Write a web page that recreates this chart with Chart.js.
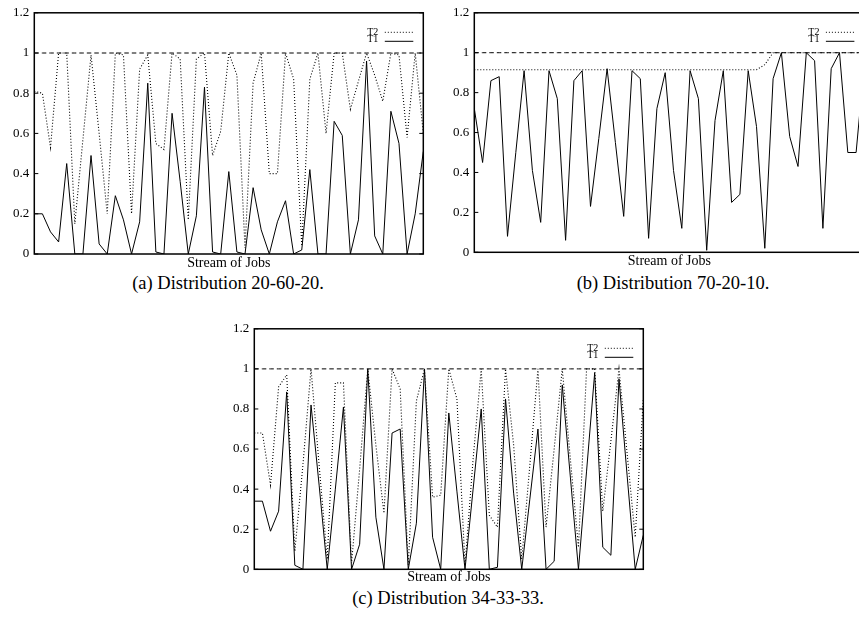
<!DOCTYPE html>
<html>
<head>
<meta charset="utf-8">
<script src="https://cdn.jsdelivr.net/npm/chart.js@4.4.1/dist/chart.umd.min.js"></script>
<style>
html, body { margin: 0; padding: 0; background: #fff; overflow: hidden; width: 859px; height: 620px; }
canvas { position: absolute; }
.caption { position: absolute; width: 320px; text-align: center; font-family: "Liberation Serif", serif; font-size: 18.5px; line-height: 1; color: #000; white-space: nowrap; }
</style>
</head>
<body>
<canvas id="chartA" style="left:0px;top:0px" width="430" height="272"></canvas>
<canvas id="chartB" style="left:440px;top:0px" width="430" height="270"></canvas>
<canvas id="chartC" style="left:220px;top:316px" width="430" height="270"></canvas>
<div class="caption" style="left:68px;top:274px">(a) Distribution 20-60-20.</div>
<div class="caption" style="left:513px;top:274px">(b) Distribution 70-20-10.</div>
<div class="caption" style="left:288px;top:589px">(c) Distribution 34-33-33.</div>
<script>
// y axis ticks shared by all three plots
var yTicks = [0, 0.2, 0.4, 0.6, 0.8, 1, 1.2];
var LIMIT = 1;

// (a) 20-60-20
var t1A = [0.20, 0.20, 0.11, 0.06, 0.45, 0, 0, 0.49, 0.05, 0, 0.29, 0.17, 0, 0.16, 0.85, 0.01, 0,
	0.70, 0.36, 0, 0.19, 0.83, 0.01, 0, 0.41, 0.01, 0, 0.33, 0.12, 0, 0.16, 0.265, 0,
	0.02, 0.42, 0, 0, 0.66, 0.59, 0, 0.17, 0.96, 0.09, 0, 0.71, 0.55, 0, 0.20, 0.51];
var t2A = [0.81, 0.80, 0.53, 1.0, 1.0, 0.15, 0.57, 0.99, 0.60, 0.20, 1.0, 0.99, 0.20, 0.92, 0.99, 0.55, 0.52,
	1.0, 0.97, 0.17, 0.97, 1.0, 0.49, 0.61, 1.0, 0.89, 0.03, 0.85, 1.0, 0.40, 0.40, 1.0, 0.87,
	0.04, 0.87, 1.0, 0.60, 1.0, 1.0, 0.72, 0.86, 1.0, 0.89, 0.76, 1.0, 0.99, 0.58, 1.0, 0.60];

// (b) 70-20-10
var t1B = [0.72, 0.45, 0.86, 0.88, 0.08, 0.50, 0.91, 0.41, 0.15, 0.91, 0.77, 0.06, 0.86, 0.91, 0.23, 0.57,
	0.92, 0.55, 0.18, 0.91, 0.87, 0.07, 0.72, 0.90, 0.41, 0.12, 0.91, 0.77, 0.01, 0.66, 0.91, 0.25,
	0.29, 0.91, 0.63, 0.02, 0.87, 1.0, 0.58, 0.43, 1.0, 0.96, 0.12, 0.92, 1.0, 0.50, 0.50, 0.95];
var t2B = [0.915, 0.915, 0.915, 0.915, 0.915, 0.915, 0.915, 0.915, 0.915, 0.915, 0.915, 0.915, 0.915, 0.915, 0.915, 0.915,
	0.915, 0.915, 0.915, 0.915, 0.915, 0.915, 0.915, 0.915, 0.915, 0.915, 0.915, 0.915, 0.915, 0.915, 0.915, 0.915,
	0.915, 0.915, 0.915, 0.94, 1.0, 1.0, 1.0, 1.0, 1.0, 1.0, 1.0, 1.0, 1.0, 1.0, 1.0, 1.0];

// (c) 34-33-33
var t1C = [0.34, 0.34, 0.19, 0.29, 0.885, 0.02, 0, 0.82, 0.42, 0, 0.40, 0.81, 0, 0.125, 1.0, 0.26, 0,
	0.68, 0.70, 0, 0.23, 1.0, 0.16, 0, 0.78, 0.39, 0, 0.40, 0.80, 0, 0.01, 0.85, 0.38,
	0, 0.35, 0.70, 0, 0.04, 0.92, 0.46, 0, 0.49, 0.98, 0.11, 0.07, 0.95, 0.47, 0, 0.17];
var t2C = [0.68, 0.68, 0.42, 0.91, 0.97, 0.09, 0.52, 1.0, 0.52, 0.05, 0.93, 0.93, 0.03, 0.50, 1.0, 0.62, 0.28,
	1.0, 0.90, 0.02, 0.84, 1.0, 0.36, 0.37, 1.0, 0.85, 0.02, 0.55, 1.0, 0.27, 0.21, 1.0, 0.62,
	0.05, 0.52, 1.0, 0.21, 0.60, 1.0, 0.55, 0.11, 1.0, 1.0, 0.29, 0.64, 1.0, 0.58, 0.16, 0.85];

var serif = "'Liberation Serif', 'Times New Roman', serif";

// box round the plot + inward ticks on both sides, gnuplot style
var framePlugin = {
	id: 'frame',
	afterDatasetsDraw: function(chart) {
		var ctx = chart.ctx, a = chart.chartArea, y = chart.scales.y;
		ctx.save();
		ctx.strokeStyle = '#000';
		ctx.lineWidth = 1;
		ctx.beginPath();
		yTicks.forEach(function(v) {
			var py = y.getPixelForValue(v);
			ctx.moveTo(a.left, py); ctx.lineTo(a.left + 4, py);
			ctx.moveTo(a.right, py); ctx.lineTo(a.right - 4, py);
		});
		ctx.stroke();
		ctx.lineWidth = 1.5;
		ctx.strokeRect(a.left, a.top, a.right - a.left, a.bottom - a.top);
		ctx.restore();
	}
};

// small key in the top right corner
var keyPlugin = {
	id: 'key',
	afterDraw: function(chart) {
		var ctx = chart.ctx, a = chart.chartArea;
		ctx.save();
		ctx.fillStyle = '#000';
		ctx.strokeStyle = '#000';
		ctx.lineWidth = 1;
		ctx.font = '10px ' + serif;
		ctx.textAlign = 'right';
		ctx.textBaseline = 'middle';
		ctx.fillText('T2', a.right - 45, a.top + 19.5);
		ctx.fillText('T1', a.right - 45, a.top + 27);
		ctx.setLineDash([1, 2]);
		ctx.beginPath();
		ctx.moveTo(a.right - 38.5, a.top + 19.5); ctx.lineTo(a.right - 10, a.top + 19.5);
		ctx.stroke();
		ctx.setLineDash([]);
		ctx.beginPath();
		ctx.moveTo(a.right - 38.5, a.top + 28.5); ctx.lineTo(a.right - 10, a.top + 28.5);
		ctx.stroke();
		ctx.restore();
	}
};

function makePanel(id, t1, t2, pad) {
	var labels = t1.map(function(_, i) { return i; });
	return new Chart(document.getElementById(id).getContext('2d'), {
		type: 'line',
		data: {
			labels: labels,
			datasets: [{
				label: 'T2',
				data: t2,
				borderColor: '#000',
				borderWidth: 1.1,
				borderDash: [1, 2],
				pointRadius: 0,
				tension: 0
			}, {
				label: 'T1',
				data: t1,
				borderColor: '#000',
				borderWidth: 1,
				pointRadius: 0,
				tension: 0
			}, {
				label: 'limit',
				data: labels.map(function() { return LIMIT; }),
				borderColor: '#000',
				borderWidth: 1,
				borderDash: [4.5, 3],
				pointRadius: 0,
				tension: 0
			}]
		},
		options: {
			responsive: false,
			animation: false,
			layout: { padding: { top: pad.top, right: pad.right, left: 0, bottom: 0 } },
			plugins: { legend: { display: false }, tooltip: { enabled: false } },
			scales: {
				x: {
					type: 'category',
					offset: false,
					grid: { display: false },
					border: { display: false },
					ticks: { display: false },
					title: { display: true, text: 'Stream of Jobs', color: '#000', padding: 0,
						font: { family: serif, size: 14 } },
					afterFit: function(s) { s.height = pad.xh; }
				},
				y: {
					min: 0,
					max: 1.2,
					grid: { display: false, drawTicks: false },
					border: { display: false },
					ticks: { padding: 5, color: '#000', font: { family: serif, size: 13 },
						callback: function(v) { return String(v); } },
					afterBuildTicks: function(s) { s.ticks = yTicks.map(function(v) { return { value: v }; }); },
					afterFit: function(s) { s.width = 34.3; }
				}
			}
		},
		plugins: [framePlugin, keyPlugin]
	});
}

makePanel('chartA', t1A, t2A, { top: 9.5, right: 6.7, xh: 18 });
makePanel('chartB', t1B, t2B, { top: 9, right: 5.6, xh: 17.7 });
makePanel('chartC', t1C, t2C, { top: 9.7, right: 6.7, xh: 16.7 });
</script>
</body>
</html>
